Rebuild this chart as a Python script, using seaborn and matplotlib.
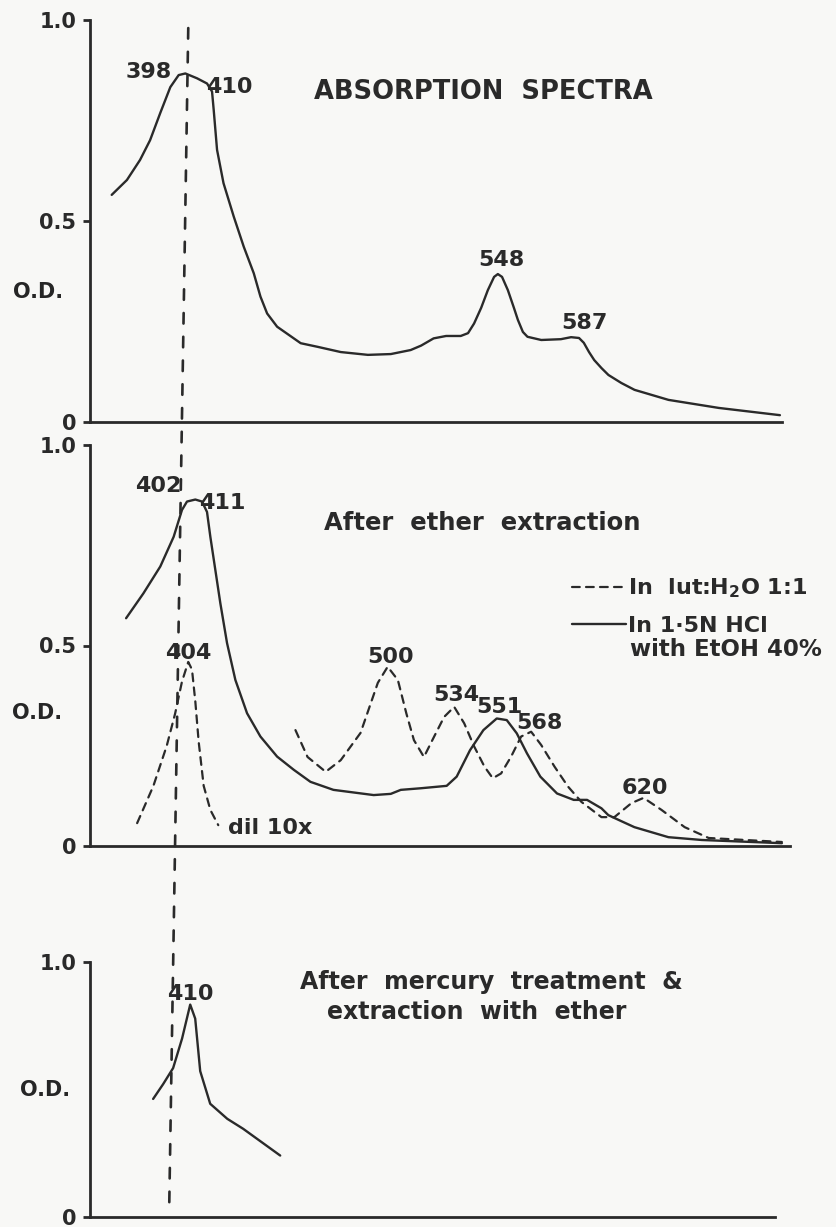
import matplotlib.pyplot as plt
from matplotlib.patches import ConnectionPatch
import seaborn as sns

# --- data (wavelength nm, optical density) ---
# top panel: absorption spectra
top_wl = [365.7, 373.0, 379.3, 384.1, 389.0, 393.8, 397.8, 401.0, 406.6, 411.4, 413.8,
          414.6, 416.2, 419.3, 424.2, 429.0, 433.8, 437.0, 440.2, 445.0, 456.3, 464.4,
          475.5, 488.5, 499.5, 509.0, 514.0, 520.0, 526.0, 533.0, 536.5, 539.4, 542.8,
          546.0, 549.0, 550.8, 552.8, 555.6, 558.5, 560.4, 562.8, 565.0, 571.6, 581.0,
          585.9, 589.7, 592.0, 594.5, 597.0, 600.5, 603.8, 610.0, 616.3, 632.6, 656.7,
          686.0]
top_od = [0.565, 0.602, 0.652, 0.701, 0.769, 0.833, 0.863, 0.867, 0.855, 0.842, 0.822,
          0.776, 0.677, 0.594, 0.511, 0.436, 0.370, 0.312, 0.270, 0.237, 0.196, 0.187,
          0.174, 0.167, 0.169, 0.179, 0.190, 0.208, 0.214, 0.214, 0.221, 0.245, 0.284,
          0.328, 0.361, 0.368, 0.361, 0.328, 0.284, 0.254, 0.224, 0.212, 0.204, 0.206,
          0.211, 0.209, 0.197, 0.174, 0.154, 0.134, 0.117, 0.097, 0.080, 0.055, 0.035,
          0.017]

# middle panel: after ether extraction, in 1.5N HCl with EtOH 40%
hcl_wl = [372.6, 380.9, 389.0, 395.4, 399.4, 401.8, 405.8, 409.0, 411.4, 413.0, 415.4,
          417.8, 421.0, 425.0, 430.6, 437.0, 445.0, 453.0, 461.0, 472.0, 491.3, 499.5,
          504.3, 513.9, 526.3, 531.1, 537.5, 543.9, 550.3, 555.1, 559.9, 564.8, 571.2,
          579.2, 587.2, 593.6, 600.5, 603.8, 610.0, 616.3, 632.6, 648.6, 687.0]
hcl_od = [0.568, 0.630, 0.697, 0.771, 0.838, 0.859, 0.864, 0.859, 0.833, 0.771, 0.688,
          0.605, 0.506, 0.414, 0.331, 0.273, 0.223, 0.190, 0.160, 0.140, 0.127, 0.130,
          0.140, 0.144, 0.150, 0.173, 0.239, 0.289, 0.318, 0.314, 0.281, 0.231, 0.173,
          0.131, 0.115, 0.115, 0.094, 0.077, 0.062, 0.047, 0.022, 0.015, 0.007]

# middle panel: in lutidine:H2O 1:1 (Soret band diluted 10x)
lut_dil_wl = [377.9, 385.7, 392.1, 396.1, 399.4, 402.4, 404.2, 405.8, 407.4, 409.8, 413.0,
              416.8]
lut_dil_od = [0.057, 0.150, 0.250, 0.330, 0.410, 0.459, 0.440, 0.360, 0.260, 0.150, 0.090,
              0.052]
lut_wl = [453.8, 459.6, 468.3, 475.5, 485.0, 493.3, 498.0, 502.9, 507.0, 510.6, 515.4,
          520.3, 525.1, 529.9, 534.7, 539.5, 544.4, 548.4, 552.4, 557.2, 562.0, 566.8,
          571.6, 578.0, 584.5, 590.9, 600.5, 606.7, 614.9, 620.7, 629.3, 640.4, 651.9,
          687.0]
lut_od = [0.289, 0.222, 0.185, 0.214, 0.282, 0.407, 0.447, 0.414, 0.330, 0.264, 0.222,
          0.273, 0.322, 0.347, 0.306, 0.248, 0.198, 0.169, 0.181, 0.223, 0.273, 0.285,
          0.252, 0.198, 0.148, 0.110, 0.072, 0.072, 0.107, 0.120, 0.090, 0.047, 0.020,
          0.010]

# bottom panel: after mercury treatment & extraction with ether
hg_wl = [385.6, 390.4, 395.2, 399.5, 403.4, 405.8, 408.2, 413.0, 421.2, 428.8, 446.6]
hg_od = [0.463, 0.521, 0.584, 0.700, 0.833, 0.778, 0.572, 0.444, 0.385, 0.346, 0.241]

INK = '#2a2a2a'
PAPER = '#f8f8f6'

sns.set_style("ticks")
plt.rcParams['font.family'] = ['DejaVu Sans']
plt.rcParams['font.weight'] = 'bold'
plt.rcParams['axes.labelweight'] = 'bold'
plt.rcParams['text.color'] = INK
plt.rcParams['axes.edgecolor'] = INK
plt.rcParams['ytick.color'] = INK

W, H = 837, 1227
fig = plt.figure(figsize=(W / 100, H / 100), dpi=100, facecolor=PAPER)


def px_axes(left, top, right, bottom):
    ax = fig.add_axes([left / W, 1 - bottom / H, (right - left) / W, (bottom - top) / H])
    ax.set_facecolor('none')
    sns.despine(ax=ax)
    ax.spines['left'].set_linewidth(2.0)
    ax.spines['bottom'].set_linewidth(2.0)
    ax.set_xticks([])
    ax.set_ylim(0, 1.0)
    ax.tick_params(axis='y', length=5, width=2, pad=5, labelsize=15)
    ax.set_ylabel('O.D.', rotation=0, fontsize=15, ha='center', va='center')
    return ax


solid = dict(color=INK, lw=1.7, solid_joinstyle='round', solid_capstyle='round')
dashed = dict(color=INK, lw=1.6, linestyle=(0, (3.5, 2.8)), dash_capstyle='round')

# top
ax1 = px_axes(90, 20, 782, 422)
ax1.set_xlim(355.3, 687.0)
sns.lineplot(x=top_wl, y=top_od, ax=ax1, sort=False, **solid)
ax1.set_yticks([0, 0.5, 1.0], ['0', '0.5', '1.0'])
ax1.yaxis.set_label_coords(-0.075, 0.323)
ax1.text(383.2, 0.871, '398', fontsize=16, ha='center', va='center')
ax1.text(422.1, 0.833, '410', fontsize=16, ha='center', va='center')
ax1.text(462.5, 0.821, 'ABSORPTION  SPECTRA', fontsize=18.5, ha='left', va='center')
ax1.text(552.4, 0.403, '548', fontsize=16, ha='center', va='center')
ax1.text(592.3, 0.246, '587', fontsize=16, ha='center', va='center')

# middle
ax2 = px_axes(90, 445, 790, 846)
ax2.set_xlim(355.3, 690.9)
sns.lineplot(x=lut_wl, y=lut_od, ax=ax2, sort=False, label='In  lut:H$_2$O 1:1', **dashed)
sns.lineplot(x=lut_dil_wl, y=lut_dil_od, ax=ax2, sort=False, **dashed)
sns.lineplot(x=hcl_wl, y=hcl_od, ax=ax2, sort=False, label='In 1·5N HCl', **solid)
ax2.set_yticks([0, 0.5, 1.0], ['0', '0.5', '1.0'])
ax2.yaxis.set_label_coords(-0.076, 0.332)
ax2.legend(loc='upper left', bbox_to_anchor=(0.689, 0.672), frameon=False, fontsize=16,
           handlelength=2.4, handletextpad=0.1, labelspacing=0.7,
           borderpad=0, borderaxespad=0)
ax2.text(614.0, 0.489, 'with EtOH 40%', fontsize=16.5, ha='left', va='center')
ax2.text(388.0, 0.898, '402', fontsize=16, ha='center', va='center')
ax2.text(418.8, 0.855, '411', fontsize=16, ha='center', va='center')
ax2.text(467.3, 0.805, 'After  ether  extraction', fontsize=17.5, ha='left', va='center')
ax2.text(402.4, 0.481, '404', fontsize=16, ha='center', va='center')
ax2.text(499.5, 0.471, '500', fontsize=16, ha='center', va='center')
ax2.text(421.6, 0.045, 'dil 10x', fontsize=16, ha='left', va='center')
ax2.text(530.8, 0.377, '534', fontsize=16, ha='center', va='center')
ax2.text(551.4, 0.347, '551', fontsize=16, ha='center', va='center')
ax2.text(570.7, 0.307, '568', fontsize=16, ha='center', va='center')
ax2.text(621.2, 0.145, '620', fontsize=16, ha='center', va='center')

# bottom
ax3 = px_axes(90, 962, 775, 1217)
ax3.set_xlim(355.3, 684.1)
sns.lineplot(x=hg_wl, y=hg_od, ax=ax3, sort=False, **solid)
ax3.set_yticks([0, 1.0], ['0', '1.0'])
ax3.yaxis.set_label_coords(-0.066, 0.498)
ax3.text(403.4, 0.875, '410', fontsize=16, ha='center', va='center')
ax3.text(456.3, 0.922, 'After  mercury  treatment  &', fontsize=17, ha='left', va='center')
ax3.text(469.2, 0.805, 'extraction  with  ether', fontsize=17, ha='left', va='center')

# dashed reference line running through all three panels
ref = ConnectionPatch(xyA=(402.4, 0.98), coordsA=ax1.transData,
                      xyB=(393.3, 0.027), coordsB=ax3.transData,
                      color=INK, lw=1.9, linestyle=(0, (4.0, 5.0)))
fig.add_artist(ref)

fig.savefig('out.png', dpi=100, facecolor=PAPER)
